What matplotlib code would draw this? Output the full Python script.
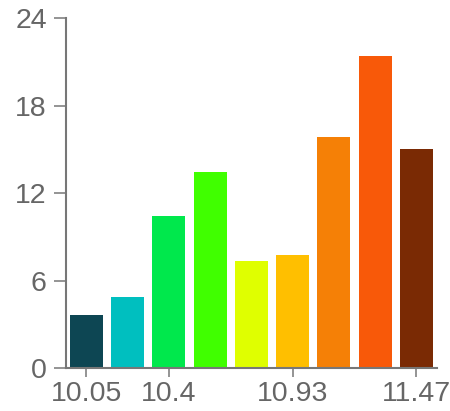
import matplotlib
matplotlib.use("Agg")
import matplotlib.pyplot as plt

categories = ["10.05", "10.23", "10.4", "10.58", "10.76", "10.93", "11.11", "11.29", "11.47"]
values = [3.64, 4.89, 10.45, 13.47, 7.37, 7.78, 15.88, 21.39, 15.01]
colors = ["#0d4653", "#00bfbf", "#00e84c", "#40ff00", "#dfff00", "#ffbf00", "#f58006", "#f85909", "#7a2a04"]
shown_ticks = ["10.05", "10.4", "10.93", "11.47"]
y_ticks = [0, 6, 12, 18, 24]

W, H = 450, 411
fig = plt.figure(figsize=(W / 100, H / 100), dpi=100)
left, right, bottom_px, top_px = 65.7, 437, 368, 18.3
ax = fig.add_axes([left / W, (H - bottom_px) / H, (right - left) / W, (bottom_px - top_px) / H])

x = list(range(len(categories)))
ax.bar(x, values, width=0.8, color=colors)
ax.set_xlim(-0.5, len(categories) - 0.5)
ax.set_ylim(0, 24)

gray = "#777777"
tcol = "#666666"
for s in ["top", "right"]:
    ax.spines[s].set_visible(False)
for s in ["left", "bottom"]:
    ax.spines[s].set_color(gray)
    ax.spines[s].set_linewidth(1.5)

ax.set_yticks(y_ticks)
ax.set_yticklabels([str(v) for v in y_ticks])
idx = [categories.index(c) for c in shown_ticks]
ax.set_xticks(idx)
ax.set_xticklabels(shown_ticks)

font = dict(family=["Liberation Sans", "DejaVu Sans"], size=20.5)
for lab in ax.get_xticklabels() + ax.get_yticklabels():
    lab.set_fontfamily(font["family"])
    lab.set_fontsize(font["size"])
    lab.set_color(tcol)

ax.tick_params(axis="y", direction="out", length=8.6, width=1.1, color=gray, pad=5)
ax.tick_params(axis="x", direction="out", length=6.5, width=1.1, color=gray, pad=2.5)

fig.savefig("out.png", dpi=100)
